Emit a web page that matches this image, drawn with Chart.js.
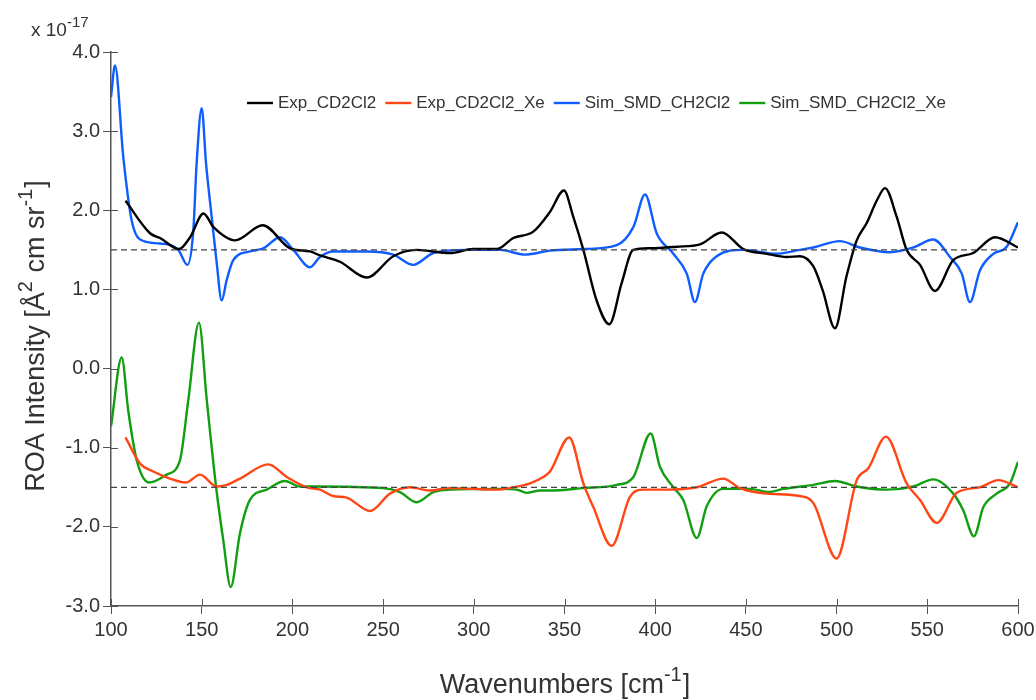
<!DOCTYPE html>
<html>
<head>
<meta charset="utf-8">
<script src="https://cdn.jsdelivr.net/npm/chart.js@4.4.1/dist/chart.umd.min.js"></script>
<style>
    html, body { margin: 0; padding: 0; background: #fff; }
    canvas { display: block; }
</style>
</head>
<body>
<canvas id="roaChart" width="1036" height="700"></canvas>
<script>
// ROA spectra, values in units of 1e-17 (top pair offset by +1.5, bottom pair by -1.5)
const expWn = [108, 121.5, 127, 137.5, 143.6, 151, 156.4, 168.4, 183.6, 198.7, 209.7, 215.2, 226.2, 241, 255.6, 268.5, 286.9, 299.7, 312.6, 321.8, 332.8, 342, 349.7, 354.8, 360.4, 367.7, 374.7, 381.5, 387.9, 397.1, 411.9, 424.7, 436.7, 448.6, 461.5, 472.5, 479.8, 487.2, 492.3, 499.1, 505.4, 511.1, 516.6, 522.3, 526.7, 533.1, 538.6, 546, 554.2, 564.3, 575.3, 587.3, 600];
const expRoa = [2.12, 1.71, 1.65, 1.51, 1.66, 1.96, 1.79, 1.62, 1.81, 1.52, 1.48, 1.43, 1.35, 1.15, 1.42, 1.50, 1.46, 1.51, 1.51, 1.65, 1.73, 1.98, 2.25, 1.92, 1.50, 0.86, 0.56, 1.08, 1.50, 1.52, 1.54, 1.57, 1.72, 1.51, 1.45, 1.41, 1.42, 1.29, 0.99, 0.51, 1.16, 1.62, 1.84, 2.13, 2.28, 1.92, 1.50, 1.31, 0.98, 1.37, 1.46, 1.66, 1.53];

const expXeWn = [108, 116, 123.3, 132.5, 141.3, 149.1, 158.3, 163.8, 171.1, 186.7, 196.9, 207.9, 215.2, 222.5, 229.9, 242.8, 253.8, 264.8, 275.9, 286.9, 299.7, 312.6, 321.8, 331, 338.3, 342, 352.6, 360.4, 365.9, 376, 386.1, 393.4, 406.3, 422.9, 437.5, 446.7, 461.5, 479.8, 487.2, 500, 511.1, 517.5, 527.2, 538.6, 546, 555.2, 566.2, 579, 589.1, 600];
const expXeRoa = [-0.87, -1.20, -1.30, -1.39, -1.44, -1.34, -1.49, -1.47, -1.39, -1.21, -1.37, -1.50, -1.53, -1.61, -1.63, -1.80, -1.58, -1.50, -1.54, -1.51, -1.52, -1.53, -1.50, -1.45, -1.37, -1.30, -0.87, -1.45, -1.75, -2.24, -1.62, -1.53, -1.53, -1.50, -1.39, -1.51, -1.58, -1.61, -1.70, -2.40, -1.41, -1.26, -0.86, -1.45, -1.66, -1.95, -1.57, -1.50, -1.41, -1.50];

const simWn = [100, 102.2, 106.8, 111.4, 116, 127, 137.1, 142.1, 145.4, 147.2, 150, 152.4, 155.5, 158.3, 161, 163.8, 167.4, 176.6, 184, 193.2, 200.5, 209.7, 215.2, 222.5, 241, 255.6, 266.6, 277.7, 296.1, 314.4, 328.2, 342, 360.4, 378.8, 388, 394.4, 400.8, 410, 417.4, 421.9, 426.5, 433.9, 448.6, 467, 479.8, 487.2, 501.8, 512.8, 529.4, 542.3, 553.3, 562.5, 569, 573.5, 579, 586.4, 593.8, 600];
const simRoa = [3.43, 3.83, 2.67, 1.87, 1.63, 1.58, 1.50, 1.31, 1.75, 2.59, 3.29, 2.59, 1.92, 1.33, 0.86, 1.12, 1.37, 1.48, 1.52, 1.66, 1.50, 1.28, 1.41, 1.48, 1.48, 1.44, 1.31, 1.46, 1.50, 1.50, 1.44, 1.49, 1.51, 1.56, 1.79, 2.20, 1.71, 1.45, 1.20, 0.84, 1.20, 1.42, 1.50, 1.45, 1.50, 1.53, 1.61, 1.53, 1.47, 1.53, 1.63, 1.41, 1.20, 0.84, 1.24, 1.45, 1.54, 1.85];

const simXeWn = [100, 105.9, 109.5, 114.2, 121.1, 130.7, 138, 142.6, 148.5, 152.8, 157.9, 161.9, 166, 171.1, 176.6, 185.8, 195.9, 204.2, 213.4, 250.1, 259.3, 268.5, 277.7, 286.9, 314.4, 323.7, 329.2, 336.5, 342, 360.4, 378.8, 388, 397.5, 402.6, 410, 415.5, 422.9, 428.4, 437.5, 452.3, 462.4, 470.6, 487.2, 499.1, 511.1, 527.6, 542.3, 553.3, 564.3, 569.8, 575.7, 580.9, 588.2, 595.6, 600];
const simXeRoa = [-0.73, 0.14, -0.53, -1.16, -1.44, -1.34, -1.16, -0.40, 0.58, -0.40, -1.49, -2.17, -2.76, -2.08, -1.66, -1.53, -1.42, -1.49, -1.49, -1.51, -1.56, -1.69, -1.56, -1.53, -1.52, -1.53, -1.57, -1.54, -1.54, -1.51, -1.47, -1.37, -0.82, -1.24, -1.50, -1.66, -2.14, -1.74, -1.52, -1.52, -1.56, -1.52, -1.47, -1.42, -1.49, -1.53, -1.49, -1.40, -1.58, -1.79, -2.12, -1.75, -1.58, -1.45, -1.18];

const seriesLabels = ["Exp_CD2Cl2", "Exp_CD2Cl2_Xe", "Sim_SMD_CH2Cl2", "Sim_SMD_CH2Cl2_Xe"];
const seriesColors = ["#000000", "#ff4614", "#0f5cff", "#119e11"];

// offsets of the two spectrum pairs, drawn as dashed zero lines
const baselineLevels = [1.5, -1.5];
const xRange = [100, 600];
const yRange = [-3, 4];

const FONT = "'Liberation Sans', Arial, Helvetica, sans-serif";
const TEXT = "#333333";
const AXIS = "#555555";

function toPoints(xs, ys) {
    return xs.map((x, i) => ({ x: x, y: ys[i] }));
}

const spectra = [
    [expWn, expRoa],
    [expXeWn, expXeRoa],
    [simWn, simRoa],
    [simXeWn, simXeRoa]
].map(([xs, ys], i) => ({
    label: seriesLabels[i],
    data: toPoints(xs, ys),
    borderColor: seriesColors[i],
    borderWidth: 2.4,
    pointRadius: 0,
    fill: false,
    cubicInterpolationMode: "monotone",
    order: 1
}));

const baselines = baselineLevels.map(level => ({
    label: "",
    isBaseline: true,
    data: toPoints(xRange, [level, level]),
    borderColor: "#444444",
    borderWidth: 1.3,
    borderDash: [6, 4],
    pointRadius: 0,
    fill: false,
    order: 0
}));

/**
 * Text with superscript pieces: parts = [[text, isSup], ...]
 */
function measureParts(ctx, parts, size, supSize) {
    let w = 0;
    parts.forEach(([t, sup]) => {
        ctx.font = (sup ? supSize : size) + "px " + FONT;
        w += ctx.measureText(t).width;
    });
    return w;
}

function drawParts(ctx, parts, x, y, size, supSize, rise) {
    parts.forEach(([t, sup]) => {
        ctx.font = (sup ? supSize : size) + "px " + FONT;
        ctx.fillText(t, x, sup ? y - rise : y);
        x += ctx.measureText(t).width + (sup ? 1 : 0);
    });
}

const decorations = {
    id: "roaDecorations",
    afterDraw(chart) {
        const ctx = chart.ctx;
        const area = chart.chartArea;
        const xs = chart.scales.x;
        const ys = chart.scales.y;
        ctx.save();

        // tick marks reaching into the plot
        ctx.strokeStyle = AXIS;
        ctx.lineWidth = 1;
        ctx.beginPath();
        ys.ticks.forEach(t => {
            const py = Math.round(ys.getPixelForValue(t.value)) + 0.5;
            ctx.moveTo(area.left, py);
            ctx.lineTo(area.left + 7, py);
        });
        xs.ticks.forEach(t => {
            const px = Math.round(xs.getPixelForValue(t.value)) + 0.5;
            ctx.moveTo(px, area.bottom);
            ctx.lineTo(px, area.bottom - 7);
        });
        ctx.stroke();

        // legend
        ctx.textBaseline = "middle";
        ctx.font = "17px " + FONT;
        let lx = 247;
        const ly = 103;
        chart.data.datasets.forEach(ds => {
            if (ds.isBaseline) return;
            ctx.strokeStyle = ds.borderColor;
            ctx.lineWidth = 2.4;
            ctx.beginPath();
            ctx.moveTo(lx, ly);
            ctx.lineTo(lx + 26, ly);
            ctx.stroke();
            lx += 31;
            ctx.fillStyle = TEXT;
            ctx.fillText(ds.label, lx, ly);
            lx += ctx.measureText(ds.label).width + 9;
        });

        ctx.fillStyle = TEXT;
        ctx.textBaseline = "alphabetic";

        // exponent label above the y axis
        drawParts(ctx, [["x 10", false], ["-17", true]], 31, 36, 19, 15, 9);

        // x axis title
        const xParts = [["Wavenumbers [cm", false], ["-1", true], ["]", false]];
        const xw = measureParts(ctx, xParts, 27, 20);
        drawParts(ctx, xParts, (area.left + area.right) / 2 - xw / 2, 693, 27, 20, 12);

        // y axis title
        const yParts = [["ROA Intensity [Å", false], ["2", true], [" cm sr", false], ["-1", true], ["]", false]];
        const yw = measureParts(ctx, yParts, 27, 20);
        ctx.translate(44, 337);
        ctx.rotate(-Math.PI / 2);
        drawParts(ctx, yParts, -yw / 2, 0, 27, 20, 12);

        ctx.restore();
    }
};

new Chart(document.getElementById("roaChart"), {
    type: "line",
    data: { datasets: spectra.concat(baselines) },
    options: {
        responsive: false,
        animation: false,
        layout: { padding: { left: 0, right: 18, top: 52, bottom: 0 } },
        plugins: {
            legend: { display: false },
            tooltip: { enabled: false }
        },
        scales: {
            x: {
                type: "linear",
                min: xRange[0],
                max: xRange[1],
                afterFit: s => {
                    s.height = 94;
                    s.paddingLeft = 0;
                    s.paddingRight = 0;
                },
                grid: { drawOnChartArea: false, drawTicks: true, tickLength: 8, color: AXIS },
                border: { display: true, color: AXIS, width: 1.5 },
                ticks: {
                    stepSize: 50,
                    padding: 4,
                    color: TEXT,
                    font: { family: FONT, size: 20 },
                    maxRotation: 0
                }
            },
            y: {
                min: yRange[0],
                max: yRange[1],
                afterFit: s => { s.width = 111; },
                grid: { drawOnChartArea: false, drawTicks: true, tickLength: 8, color: AXIS },
                border: { display: true, color: AXIS, width: 1.5 },
                ticks: {
                    stepSize: 1,
                    padding: 3,
                    color: TEXT,
                    font: { family: FONT, size: 20 },
                    callback: v => v.toFixed(1)
                }
            }
        }
    },
    plugins: [decorations]
});
</script>
</body>
</html>
